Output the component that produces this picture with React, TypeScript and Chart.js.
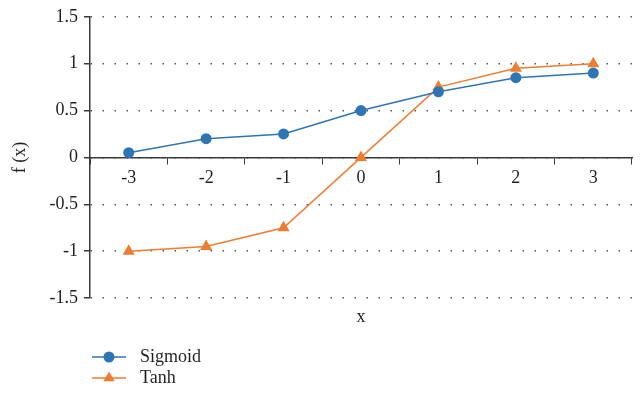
import React, { useEffect, useRef } from "react";
import { Chart, registerables } from "chart.js";

Chart.register(...registerables);

const xLabels = ["-3", "-2", "-1", "0", "1", "2", "3"];
const sigmoidValues = [0.05, 0.2, 0.25, 0.5, 0.7, 0.85, 0.9];
const tanhValues = [-1, -0.95, -0.75, 0, 0.75, 0.95, 1];
const seriesNames = ["Sigmoid", "Tanh"];
const yMin = -1.5;
const yMax = 1.5;
const yStep = 0.5;
const xTitle = "x";
const yTitle = "f (x)";

const BLUE = "#2E75B6";
const ORANGE = "#ED7D31";
const FONT = '"Liberation Serif", "Times New Roman", serif';
const TEXT = "#231F20";

const legendPlugin = {
  id: "lineMarkerLegend",
  afterDraw(chart: any) {
    const ctx = chart.ctx;
    const area = chart.chartArea;
    const x0 = area.left + 2;
    const baseY = area.bottom + 59;
    chart.data.datasets.forEach((ds: any, i: number) => {
      const y = baseY + i * 21;
      ctx.save();
      ctx.strokeStyle = ds.borderColor;
      ctx.lineWidth = 1.5;
      ctx.beginPath();
      ctx.moveTo(x0, y);
      ctx.lineTo(x0 + 34, y);
      ctx.stroke();
      const cx = x0 + 17;
      ctx.fillStyle = ds.backgroundColor;
      ctx.beginPath();
      if (ds.pointStyle === "triangle") {
        const r = 6.5;
        ctx.moveTo(cx, y - r);
        ctx.lineTo(cx + r * Math.sin(Math.PI * 2 / 3), y + r / 2);
        ctx.lineTo(cx - r * Math.sin(Math.PI * 2 / 3), y + r / 2);
        ctx.closePath();
      } else {
        ctx.arc(cx, y, 5.5, 0, Math.PI * 2);
      }
      ctx.fill();
      ctx.font = `18px ${FONT}`;
      ctx.fillStyle = TEXT;
      ctx.textBaseline = "middle";
      ctx.textAlign = "left";
      ctx.fillText(ds.label, x0 + 48, y);
      ctx.restore();
    });
  },
};

export default function App() {
  const canvasRef = useRef<HTMLCanvasElement | null>(null);

  useEffect(() => {
    if (!canvasRef.current) return;
    const tickFont = { family: FONT, size: 18 };
    const chart = new Chart(canvasRef.current, {
      type: "line",
      data: {
        labels: xLabels,
        datasets: [
          {
            label: seriesNames[0],
            data: sigmoidValues,
            borderColor: BLUE,
            backgroundColor: BLUE,
            borderWidth: 1.5,
            pointStyle: "circle",
            pointRadius: 5.5,
            pointBorderWidth: 0,
            pointHoverRadius: 5.5,
            xAxisID: "x",
          },
          {
            label: seriesNames[1],
            data: tanhValues,
            borderColor: ORANGE,
            backgroundColor: ORANGE,
            borderWidth: 1.5,
            pointStyle: "triangle",
            pointRadius: 7,
            pointBorderWidth: 0,
            pointHoverRadius: 7,
            xAxisID: "x",
          },
        ],
      },
      options: {
        responsive: false,
        animation: false,
        layout: { padding: { left: 0, top: 14, right: 8, bottom: 75 } },
        plugins: { legend: { display: false }, tooltip: { enabled: false } },
        scales: {
          x: {
            type: "category",
            position: { y: 0 } as any,
            offset: true,
            grid: {
              drawOnChartArea: false,
              drawTicks: true,
              tickLength: 6,
              color: "#3a3a3a",
              offset: true,
            },
            border: { color: "#3a3a3a", width: 1.5 },
            ticks: { font: tickFont, color: TEXT, padding: 4, maxRotation: 0 },
          },
          x2: {
            type: "category",
            position: "bottom",
            grid: { display: false },
            border: { display: false },
            ticks: { display: false },
            title: { display: true, text: xTitle, font: tickFont, color: TEXT },
            afterFit(scale: any) {
              scale.height = 34;
            },
          },
          y: {
            min: yMin,
            max: yMax,
            ticks: {
              stepSize: yStep,
              font: tickFont,
              color: TEXT,
              padding: 6,
              callback: (v: any) => String(v),
            },
            grid: {
              color: "#555",
              lineWidth: 1.5,
              tickColor: "#3a3a3a",
              tickLength: 6,
              tickWidth: 1.5,
            },
            border: { color: "#3a3a3a", width: 1.5, dash: [1.5, 10.5] },
            title: {
              display: true,
              text: yTitle,
              font: tickFont,
              color: TEXT,
              padding: { top: 9, bottom: 4 },
            },
            afterFit(scale: any) {
              scale.width = 90;
            },
          },
        },
      },
      plugins: [legendPlugin],
    } as any);
    return () => chart.destroy();
  }, []);

  return (
    <div style={{ position: "absolute", left: 0, top: 0, width: 640, height: 407, background: "#fff" }}>
      <canvas ref={canvasRef} width={640} height={407} />
    </div>
  );
}
